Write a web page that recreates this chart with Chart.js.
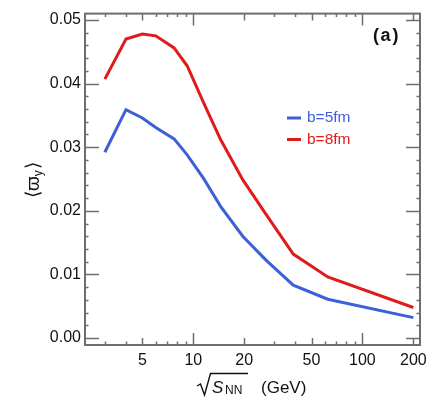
<!DOCTYPE html>
<html>
<head>
<meta charset="utf-8">
<script src="https://cdn.jsdelivr.net/npm/chart.js@4.4.1/dist/chart.umd.min.js"></script>
<style>
  html, body { margin: 0; padding: 0; background: #fff; }
  #wrap { width: 439px; height: 400px; position: relative; }
</style>
</head>
<body>
<div id="wrap"><canvas id="grafico"></canvas></div>
<script>
// datos
const energias = [3, 4, 5, 6, 7.7, 9.2, 11.5, 14.5, 19.6, 27, 39, 62.4, 200];
const b5fm = [0.0292, 0.0359, 0.0346, 0.0331, 0.0313, 0.0288, 0.0251, 0.0207, 0.0160, 0.0122, 0.0083, 0.0061, 0.0032];
const b8fm = [0.0407, 0.0470, 0.0478, 0.0475, 0.0456, 0.0428, 0.0370, 0.0312, 0.0249, 0.0194, 0.0132, 0.0096, 0.0048];
const ticksX = [5, 10, 20, 50, 100, 200];
const ticksY = [0, 0.01, 0.02, 0.03, 0.04, 0.05];
const menoresX = [3, 4, 6, 7, 8, 9, 30, 40, 60, 70, 80, 90];
const series = ["b=5fm", "b=8fm"];
const colores = ["#3d5fd8", "#e01b1b"];

const FUENTE = '"Liberation Sans", Arial, sans-serif';
const GRIS = "#6e6e6e";

// marco, ticks hacia adentro, leyenda y titulos
const decoracion = {
  id: "decoracion",
  afterDraw(chart) {
    const ctx = chart.ctx;
    const a = chart.chartArea;
    const sx = chart.scales.x, sy = chart.scales.y;
    ctx.save();
    ctx.strokeStyle = GRIS;
    ctx.lineWidth = 2;
    ctx.strokeRect(a.left, a.top, a.right - a.left, a.bottom - a.top);

    ctx.lineWidth = 1.5;
    const marcaX = (v, len) => {
      const x = Math.round(sx.getPixelForValue(v)) + 0.5;
      ctx.beginPath();
      ctx.moveTo(x, a.bottom); ctx.lineTo(x, a.bottom - len);
      ctx.moveTo(x, a.top); ctx.lineTo(x, a.top + len);
      ctx.stroke();
    };
    ticksX.forEach(v => marcaX(v, (v === 10 || v === 100) ? 12 : 7));
    menoresX.forEach(v => marcaX(v, 3.5));
    const marcaY = (v, len) => {
      const y = Math.round(sy.getPixelForValue(v)) + 0.5;
      ctx.beginPath();
      ctx.moveTo(a.left, y); ctx.lineTo(a.left + len, y);
      ctx.moveTo(a.right, y); ctx.lineTo(a.right - len, y);
      ctx.stroke();
    };
    ticksY.forEach(v => marcaY(v, 14));
    for (let i = 1; i <= 25; i++) {
      const v = i * 0.002;
      if (i % 5 !== 0 && v < sy.max) marcaY(v, 3.5);
    }

    // etiqueta (a)
    ctx.fillStyle = "#111";
    ctx.font = "bold 18px " + FUENTE;
    ctx.textAlign = "left";
    ctx.textBaseline = "middle";
    ctx.fillText("(", 373, 36);
    ctx.fillText("a", 380.5, 36);
    ctx.fillText(")", 392.5, 36);

    // leyenda
    ctx.font = "15.5px " + FUENTE;
    series.forEach((s, i) => {
      const y = 118 + i * 21.5;
      ctx.strokeStyle = colores[i];
      ctx.lineWidth = 3;
      ctx.beginPath();
      ctx.moveTo(287, y); ctx.lineTo(301, y);
      ctx.stroke();
      ctx.fillStyle = colores[i];
      ctx.fillText(s, 307, y);
    });

    // titulo eje x: raiz de S_NN (GeV)
    ctx.fillStyle = "#111";
    ctx.strokeStyle = "#111";
    ctx.textBaseline = "alphabetic";
    ctx.lineWidth = 1.4;
    ctx.beginPath();
    ctx.moveTo(197, 386); ctx.lineTo(200.5, 384);
    ctx.lineTo(204.5, 395); ctx.lineTo(210.5, 373.5); ctx.lineTo(248, 373.5);
    ctx.stroke();
    ctx.font = "italic 17px " + FUENTE;
    ctx.fillText("S", 212, 393);
    ctx.font = "12px " + FUENTE;
    ctx.fillText("NN", 225, 394);
    ctx.font = "17px " + FUENTE;
    ctx.fillText("(GeV)", 261, 393);

    // titulo eje y
    ctx.translate(39, 181);
    ctx.rotate(-Math.PI / 2);
    ctx.textAlign = "left";
    ctx.font = "19px " + FUENTE;
    let x0 = -17;
    ctx.fillText("\u27E8", x0, 0); x0 += ctx.measureText("\u27E8").width;
    ctx.fillText("\u03D6", x0, 0); x0 += ctx.measureText("\u03D6").width;
    ctx.font = "12px " + FUENTE;
    ctx.fillText("y", x0, 3); x0 += ctx.measureText("y").width + 1;
    ctx.font = "19px " + FUENTE;
    ctx.fillText("\u27E9", x0, 0);
    ctx.restore();
  }
};

new Chart(document.getElementById("grafico"), {
  type: "line",
  data: {
    datasets: series.map((s, i) => ({
      label: s,
      data: energias.map((e, k) => ({ x: e, y: (i === 0 ? b5fm : b8fm)[k] })),
      borderColor: colores[i],
      borderWidth: 3,
      pointRadius: 0,
      tension: 0,
      fill: false
    }))
  },
  options: {
    responsive: true,
    maintainAspectRatio: false,
    animation: false,
    layout: { padding: { top: 10, right: 19, left: 0, bottom: 0 } },
    plugins: { legend: { display: false }, tooltip: { enabled: false } },
    scales: {
      x: {
        type: "logarithmic",
        min: 2.29,
        max: 219,
        grid: { display: false, drawTicks: false },
        border: { display: false },
        afterBuildTicks: sc => { sc.ticks = ticksX.map(v => ({ value: v })); },
        ticks: {
          autoSkip: false,
          maxRotation: 0,
          padding: 6,
          color: "#111",
          font: { family: FUENTE, size: 16 },
          callback: v => String(v)
        },
        afterFit: sc => { sc.height = 55; }
      },
      y: {
        min: -0.0011,
        max: 0.051,
        grid: { display: false, drawTicks: false },
        border: { display: false },
        afterBuildTicks: sc => { sc.ticks = ticksY.map(v => ({ value: v })); },
        ticks: {
          padding: 4,
          color: "#111",
          font: { family: FUENTE, size: 16 },
          callback: v => v.toFixed(2)
        },
        afterFit: sc => { sc.width = 85; }
      }
    }
  },
  plugins: [decoracion]
});
</script>
</body>
</html>
